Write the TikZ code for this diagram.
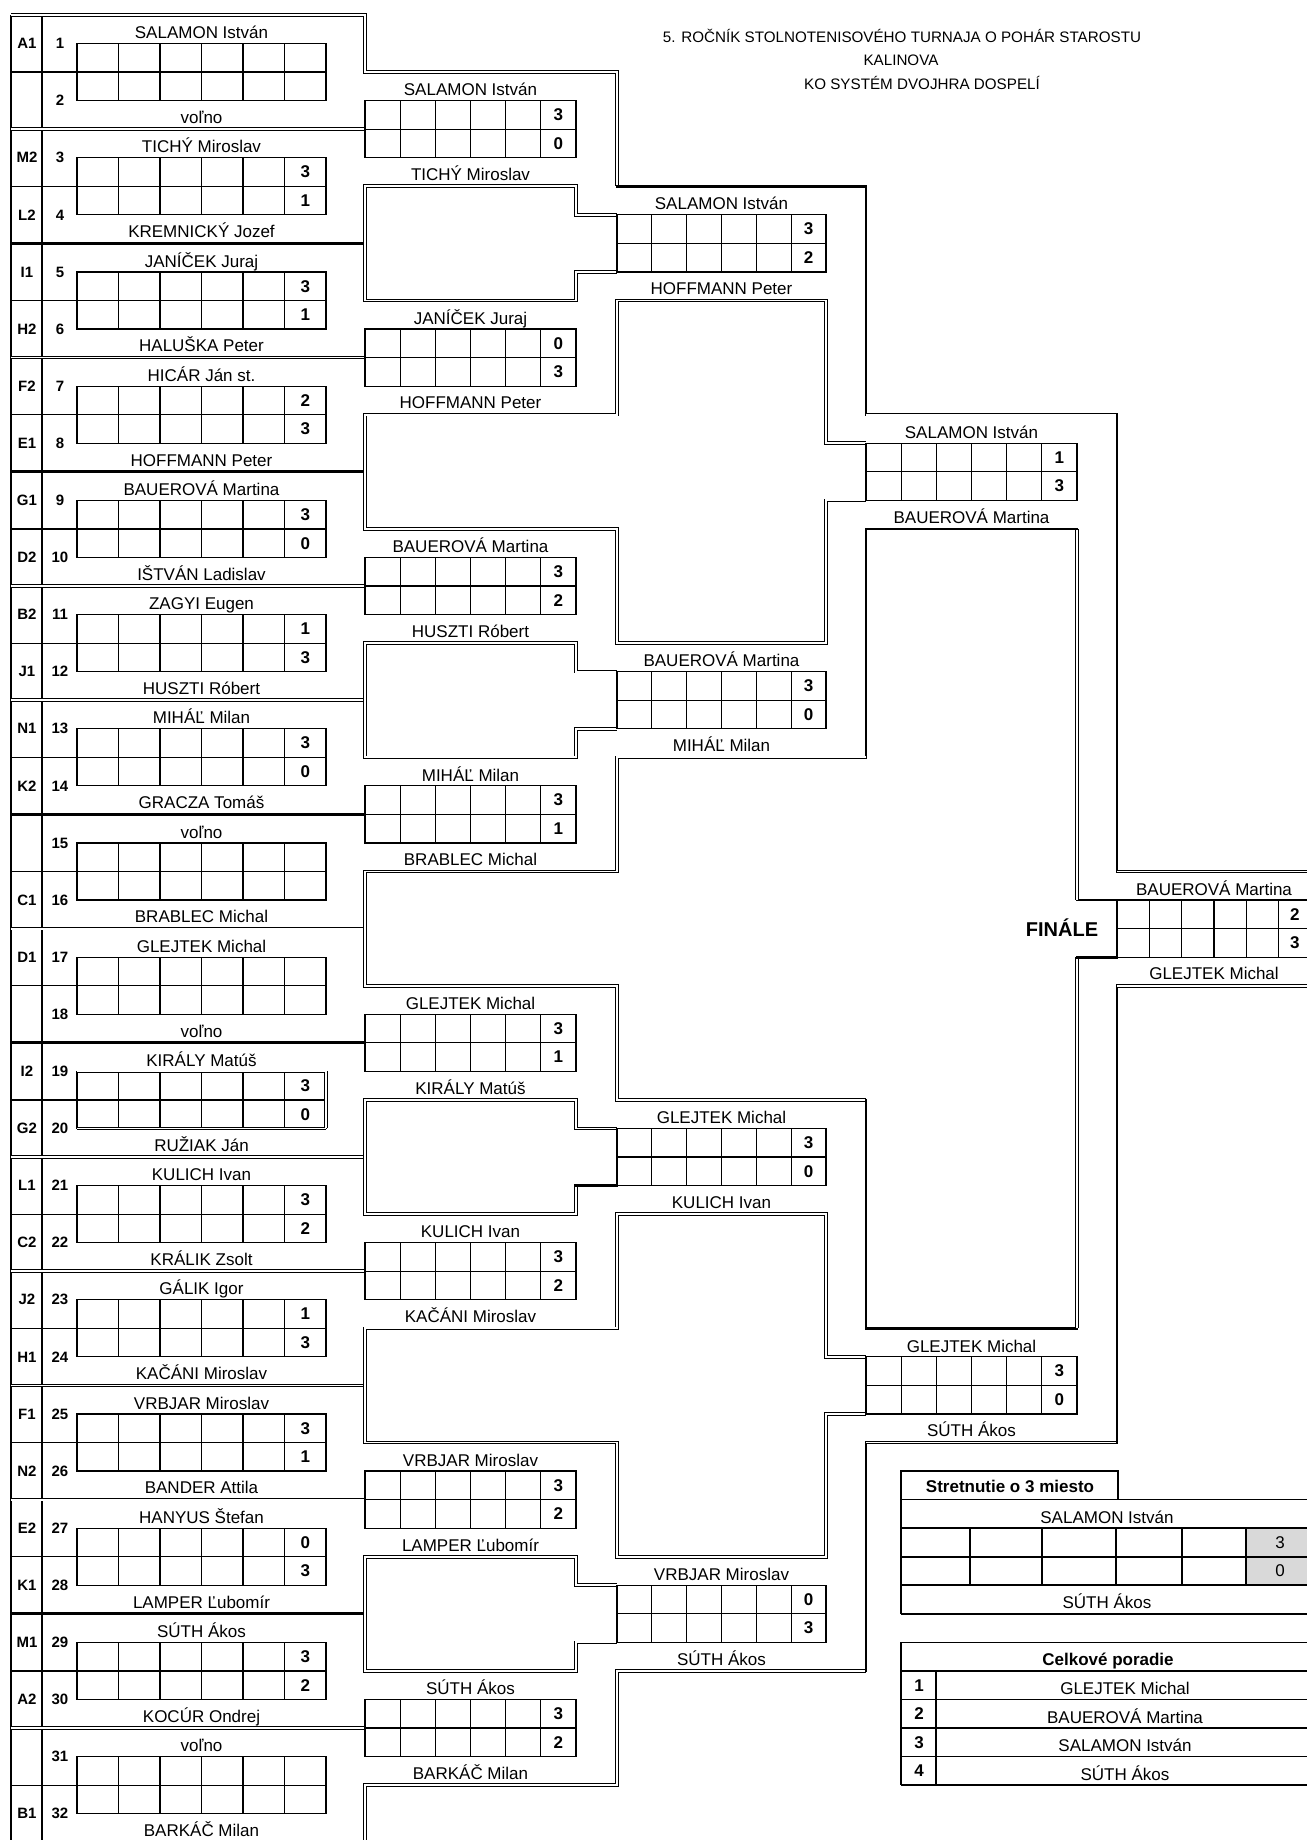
\documentclass[tikz,border=0pt]{standalone}
\usepackage{fontspec}
\setmainfont{Liberation Sans}

\tikzset{
  grd/.style={line width=.6pt},
  frm/.style={line width=.7pt},
  tbl/.style={line width=.8pt},
  dbl/.style={double,double distance=.9pt,line width=.45pt},
  thk/.style={line width=1.4pt,line cap=rect},
  pname/.style={anchor=base,inner sep=0pt,font=\fontsize{8.5}{10}\selectfont},
  ptitle/.style={anchor=base,inner sep=0pt,font=\bfseries\fontsize{8.5}{10}\selectfont},
  pscore/.style={inner sep=0pt,font=\bfseries\fontsize{8.5}{10}\selectfont},
  pnum/.style={inner sep=0pt,font=\fontsize{8.5}{10}\selectfont},
  pseed/.style={inner sep=0pt,font=\bfseries\fontsize{7.5}{9}\selectfont},
  hdr/.style={anchor=base,inner sep=0pt,font=\fontsize{7.6}{9}\selectfont},
}
% six sets and the result column of one match
\newcommand\scoregrid[3]{%
  \draw[grd] (#1,#3-1) rectangle (#2,#3+1) (#1,#3) -- (#2,#3);
  \foreach \i in {1,...,5} \draw[grd] ({#1+\i*(#2-#1)/6},#3-1) -- ++(0,2);}
% grid, both players and the result: left, right, centre, id, names, scores
\newcommand\matchcell[8]{%
  \scoregrid{#1}{#2}{#3}
  \node[pname] (#4a) at ({(#1+#2)/2},#3-1.17) {#5};
  \node[pname] (#4b) at ({(#1+#2)/2},#3+1.8) {#6};
  \node[pscore] (#4x) at ({#2-(#2-#1)/12},#3-.5) {#7};
  \node[pscore] (#4y) at ({#2-(#2-#1)/12},#3+.5) {#8};}

\begin{document}
\begin{tikzpicture}[x=.5pt,y=-14.275pt,line join=miter]
\useasboundingbox (0,-.5254) rectangle (1306,63.923);

% title
\node[hdr] (title1) at (902,.96) {5. ROČNÍK STOLNOTENISOVÉHO TURNAJA O POHÁR STAROSTU};
\node[hdr] (title2) at (901,1.76) {KALINOVA};
\node[hdr] (title3) at (922,2.62) {KO SYSTÉM DVOJHRA DOSPELÍ};

% first round frame
\draw[frm] (11,0) -- (11,64.5) (42,0) -- (42,64.5);
\foreach \k/\st in {4/dbl,8/thk,12/dbl,16/thk,20/dbl,24/dbl,28/thk,32/dbl,
  36/thk,40/dbl,44/dbl,48/dbl,52/dbl,56/thk,60/dbl}
  \draw[\st] (11,\k) -- (365,\k);

% bracket lines
\draw[dbl] (11,0) -- (365,0) -- (365,2) -- (617,2) -- (617,6);
\draw[thk] (617,6) -- (866,6) -- (866,14);
\draw[dbl] (866,14) -- (1117,14);
\draw[thk] (1117,14) -- (1117,30);
\draw[dbl] (1117,30) -- (1320,30);
\foreach \c in {4,20,36,52}
  \draw[dbl] (617,\c+3) -- (576,\c+3) -- (576,\c+2) -- (365,\c+2) -- (365,\c+6)
    -- (576,\c+6) -- (576,\c+5) -- (617,\c+5);
\draw[thk] (576,41) -- (617,41);
\foreach \c in {12,44}
  \draw[dbl] (866,\c+3) -- (826,\c+3) -- (826,\c-2) -- (617,\c-2) -- (617,\c+2)
    -- (365,\c+2) -- (365,\c+6) -- (617,\c+6) -- (617,\c+10) -- (826,\c+10)
    -- (826,\c+5) -- (866,\c+5);
\draw[thk] (1117,31) -- (1077,31);
\draw[dbl] (1077,31) -- (1077,18);
\draw[thk] (1077,18) -- (866,18) -- (866,26);
\draw[dbl] (866,26) -- (617,26) -- (617,30) -- (365,30) -- (365,34) -- (617,34)
  -- (617,38) -- (866,38);
\draw[thk] (866,38) -- (866,46) -- (1077,46);
\draw[dbl] (1077,46) -- (1077,33);
\draw[thk] (1077,33) -- (1117,33);
\draw[dbl] (365,64.5) -- (365,62) -- (617,62) -- (617,58) -- (866,58);
\draw[thk] (866,58) -- (866,50);
\draw[dbl] (866,50) -- (1117,50);
\draw[thk] (1117,50) -- (1117,34);
\draw[dbl] (1117,34) -- (1320,34);

% first round
\foreach \bl/\sdA/\sdB/\plA/\plB/\scA/\scB in {
  1/A1/{}/SALAMON István/voľno/{}/{},
  2/M2/L2/TICHÝ Miroslav/KREMNICKÝ Jozef/3/1,
  3/I1/H2/JANÍČEK Juraj/HALUŠKA Peter/3/1,
  4/F2/E1/HICÁR Ján st./HOFFMANN Peter/2/3,
  5/G1/D2/BAUEROVÁ Martina/IŠTVÁN Ladislav/3/0,
  6/B2/J1/ZAGYI Eugen/HUSZTI Róbert/1/3,
  7/N1/K2/MIHÁĽ Milan/GRACZA Tomáš/3/0,
  8/{}/C1/voľno/BRABLEC Michal/{}/{},
  9/D1/{}/GLEJTEK Michal/voľno/{}/{},
  10/I2/G2/KIRÁLY Matúš/RUŽIAK Ján/3/0,
  11/L1/C2/KULICH Ivan/KRÁLIK Zsolt/3/2,
  12/J2/H1/GÁLIK Igor/KAČÁNI Miroslav/1/3,
  13/F1/N2/VRBJAR Miroslav/BANDER Attila/3/1,
  14/E2/K1/HANYUS Štefan/LAMPER Ľubomír/0/3,
  15/M1/A2/SÚTH Ákos/KOCÚR Ondrej/3/2,
  16/{}/B1/voľno/BARKÁČ Milan/{}/{}}{
  \pgfmathsetmacro\cen{4*\bl-2}
  \pgfmathtruncatemacro\nrA{2*\bl-1}
  \pgfmathtruncatemacro\nrB{2*\bl}
  \draw[grd] (11,\cen) -- (77,\cen);
  \matchcell{77}{326}{\cen}{r1m\bl}{\plA}{\plB}{\scA}{\scB}
  \node[pseed] (sda\bl) at (27,\cen-1) {\sdA};
  \node[pseed] (sdb\bl) at (27,\cen+1) {\sdB};
  \node[pseed] (nra\bl) at (60,\cen-1) {\nrA};
  \node[pseed] (nrb\bl) at (60,\cen+1) {\nrB};
}
\draw[thk,line cap=butt] (77,37) -- (77,39);
\draw[dbl] (77,37) -- (326,37) (77,39) -- (326,39) (326,37) -- (326,39);

% second round
\foreach \cen/\plA/\plB/\scA/\scB in {
  4/SALAMON István/TICHÝ Miroslav/3/0,
  12/JANÍČEK Juraj/HOFFMANN Peter/0/3,
  20/BAUEROVÁ Martina/HUSZTI Róbert/3/2,
  28/MIHÁĽ Milan/BRABLEC Michal/3/1,
  36/GLEJTEK Michal/KIRÁLY Matúš/3/1,
  44/KULICH Ivan/KAČÁNI Miroslav/3/2,
  52/VRBJAR Miroslav/LAMPER Ľubomír/3/2,
  60/SÚTH Ákos/BARKÁČ Milan/3/2}
  {\matchcell{365}{576}{\cen}{r2m\cen}{\plA}{\plB}{\scA}{\scB}}

% third round
\foreach \cen/\plA/\plB/\scA/\scB in {
  8/SALAMON István/HOFFMANN Peter/3/2,
  24/BAUEROVÁ Martina/MIHÁĽ Milan/3/0,
  40/GLEJTEK Michal/KULICH Ivan/3/0,
  56/VRBJAR Miroslav/SÚTH Ákos/0/3}
  {\matchcell{617}{826}{\cen}{r3m\cen}{\plA}{\plB}{\scA}{\scB}}

% semifinals and final
\matchcell{866}{1077}{16}{r4m16}{SALAMON István}{BAUEROVÁ Martina}{1}{3}
\matchcell{866}{1077}{48}{r4m48}{GLEJTEK Michal}{SÚTH Ákos}{3}{0}
\matchcell{1117}{1311}{32}{fin}{BAUEROVÁ Martina}{GLEJTEK Michal}{2}{3}
\node[inner sep=0pt,font=\bfseries\fontsize{10}{12}\selectfont] (finale) at (1062,31.95) {FINÁLE};

% match for third place
\fill[gray!30] (1246,53) rectangle (1320,55);
\draw[tbl] (901,51) rectangle (1118,52);
\draw[tbl] (901,52) -- (1320,52) (901,53) -- (1320,53) (901,54) -- (1320,54)
  (901,55) -- (1320,55) (901,56) -- (1320,56) (901,52) -- (901,56);
\foreach \x in {970,1042,1116,1182,1246} \draw[tbl] (\x,53) -- (\x,55);
\node[ptitle] (third) at (1010,51.76) {Stretnutie o 3 miesto};
\node[pname] (thirda) at (1107,52.83) {SALAMON István};
\node[pname] (thirdb) at (1107,55.8) {SÚTH Ákos};
\node[pnum] (thirdx) at (1280,53.5) {3};
\node[pnum] (thirdy) at (1280,54.5) {0};

% final standings
\draw[tbl] (901,57) -- (1320,57) (901,58) -- (1320,58) (901,59) -- (1320,59)
  (901,60) -- (1320,60) (901,61) -- (1320,61) (901,62) -- (1320,62)
  (901,57) -- (901,62) (936,58) -- (936,62);
\node[ptitle] (rank) at (1108,57.8) {Celkové poradie};
\foreach \i/\pl in {1/GLEJTEK Michal,2/BAUEROVÁ Martina,3/SALAMON István,4/SÚTH Ákos}{
  \node[pscore] (rk\i) at (919,57.5+\i) {\i};
  \node[pname] (rn\i) at (1125,57.83+\i) {\pl};
}
\end{tikzpicture}
\end{document}
